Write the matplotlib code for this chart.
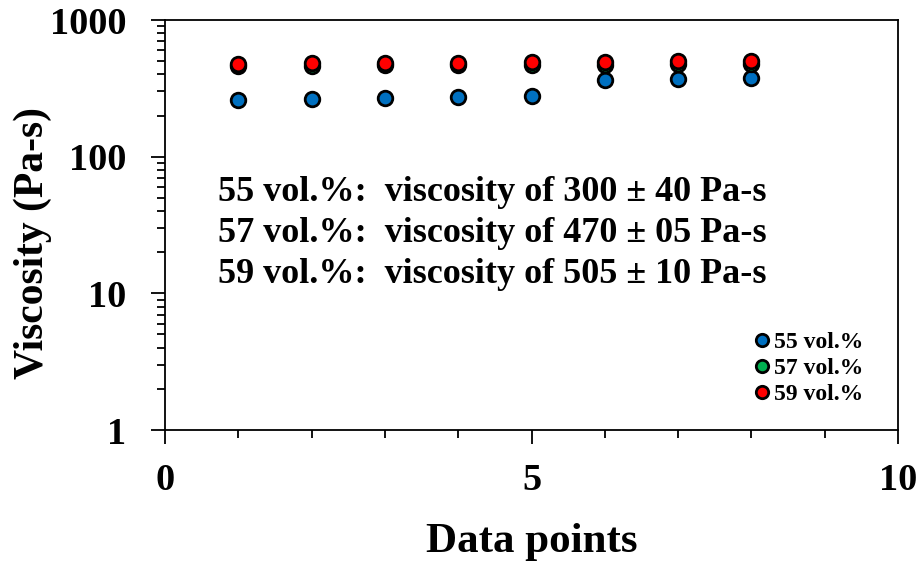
import matplotlib
matplotlib.use("Agg")
import matplotlib.pyplot as plt
from matplotlib.ticker import FixedLocator, LogLocator, NullFormatter

x = [1, 2, 3, 4, 5, 6, 7, 8]
v55 = [260, 265, 268, 272, 276, 362, 370, 376]
v57 = [462, 463, 465, 468, 470, 472, 476, 480]
v59 = [480, 483, 485, 488, 490, 494, 497, 500]
labels = ["55 vol.%", "57 vol.%", "59 vol.%"]
colors = ["#0070C0", "#00B050", "#FF0000"]
notes = ["55 vol.%:  viscosity of 300 \u00b1 40 Pa-s",
         "57 vol.%:  viscosity of 470 \u00b1 05 Pa-s",
         "59 vol.%:  viscosity of 505 \u00b1 10 Pa-s"]

plt.rcParams['font.family'] = ['Liberation Serif', 'DejaVu Serif']
plt.rcParams['font.weight'] = 'bold'

fig = plt.figure(figsize=(9.24, 5.69), dpi=100)
ax = fig.add_axes([165/924, 1 - 430/569, (898-165)/924, (430-20)/569])

for vals, lab, c in zip([v55, v57, v59], labels, colors):
    ax.plot(x, vals, linestyle='none', marker='o', markersize=10.5,
            markerfacecolor=c, markeredgecolor='black', markeredgewidth=2, label=lab)

ax.set_yscale('log')
ax.set_ylim(1, 1000)
ax.set_xlim(0, 10)
ax.set_xticks([0, 5, 10])
ax.xaxis.set_minor_locator(FixedLocator([1, 2, 3, 4, 6, 7, 8, 9]))
ax.yaxis.set_minor_locator(LogLocator(base=10, subs=range(2, 10)))
ax.yaxis.set_minor_formatter(NullFormatter())
ax.set_yticks([1, 10, 100, 1000])
ax.set_yticklabels(["1", "10", "100", "1000"])

ax.tick_params(axis='both', which='major', direction='out', length=10, width=1.3,
               labelsize=27.5)
ax.tick_params(axis='y', which='major', pad=18)
ax.tick_params(axis='x', which='major', pad=14)
ax.tick_params(axis='both', which='minor', direction='out', length=6, width=1.3)
for t in ax.get_xticklabels() + ax.get_yticklabels():
    t.set_fontweight('bold')
for s in ax.spines.values():
    s.set_linewidth(1.3)

ax.set_xlabel("Data points", fontsize=31, fontweight='bold', labelpad=18)
ax.set_ylabel("Viscosity (Pa-s)", fontsize=30, fontweight='bold')
ax.yaxis.label.set_va('center')
ax.yaxis.set_label_coords((33 - 165) / 733, (430 - 243) / 410)

for i, n in enumerate(notes):
    ax.text(0.072, 0.58 - i * 0.1, n, transform=ax.transAxes, fontsize=26,
            fontweight='bold', va='center', ha='left')

leg = ax.legend(loc='lower right', bbox_to_anchor=(0.975, 0.02), frameon=False,
                prop={'family': 'Liberation Serif', 'weight': 'bold', 'size': 17},
                handletextpad=0.0, labelspacing=0.2, markerscale=0.85, handlelength=1.0,
                borderpad=0.2)

fig.savefig("out.png", dpi=100)
